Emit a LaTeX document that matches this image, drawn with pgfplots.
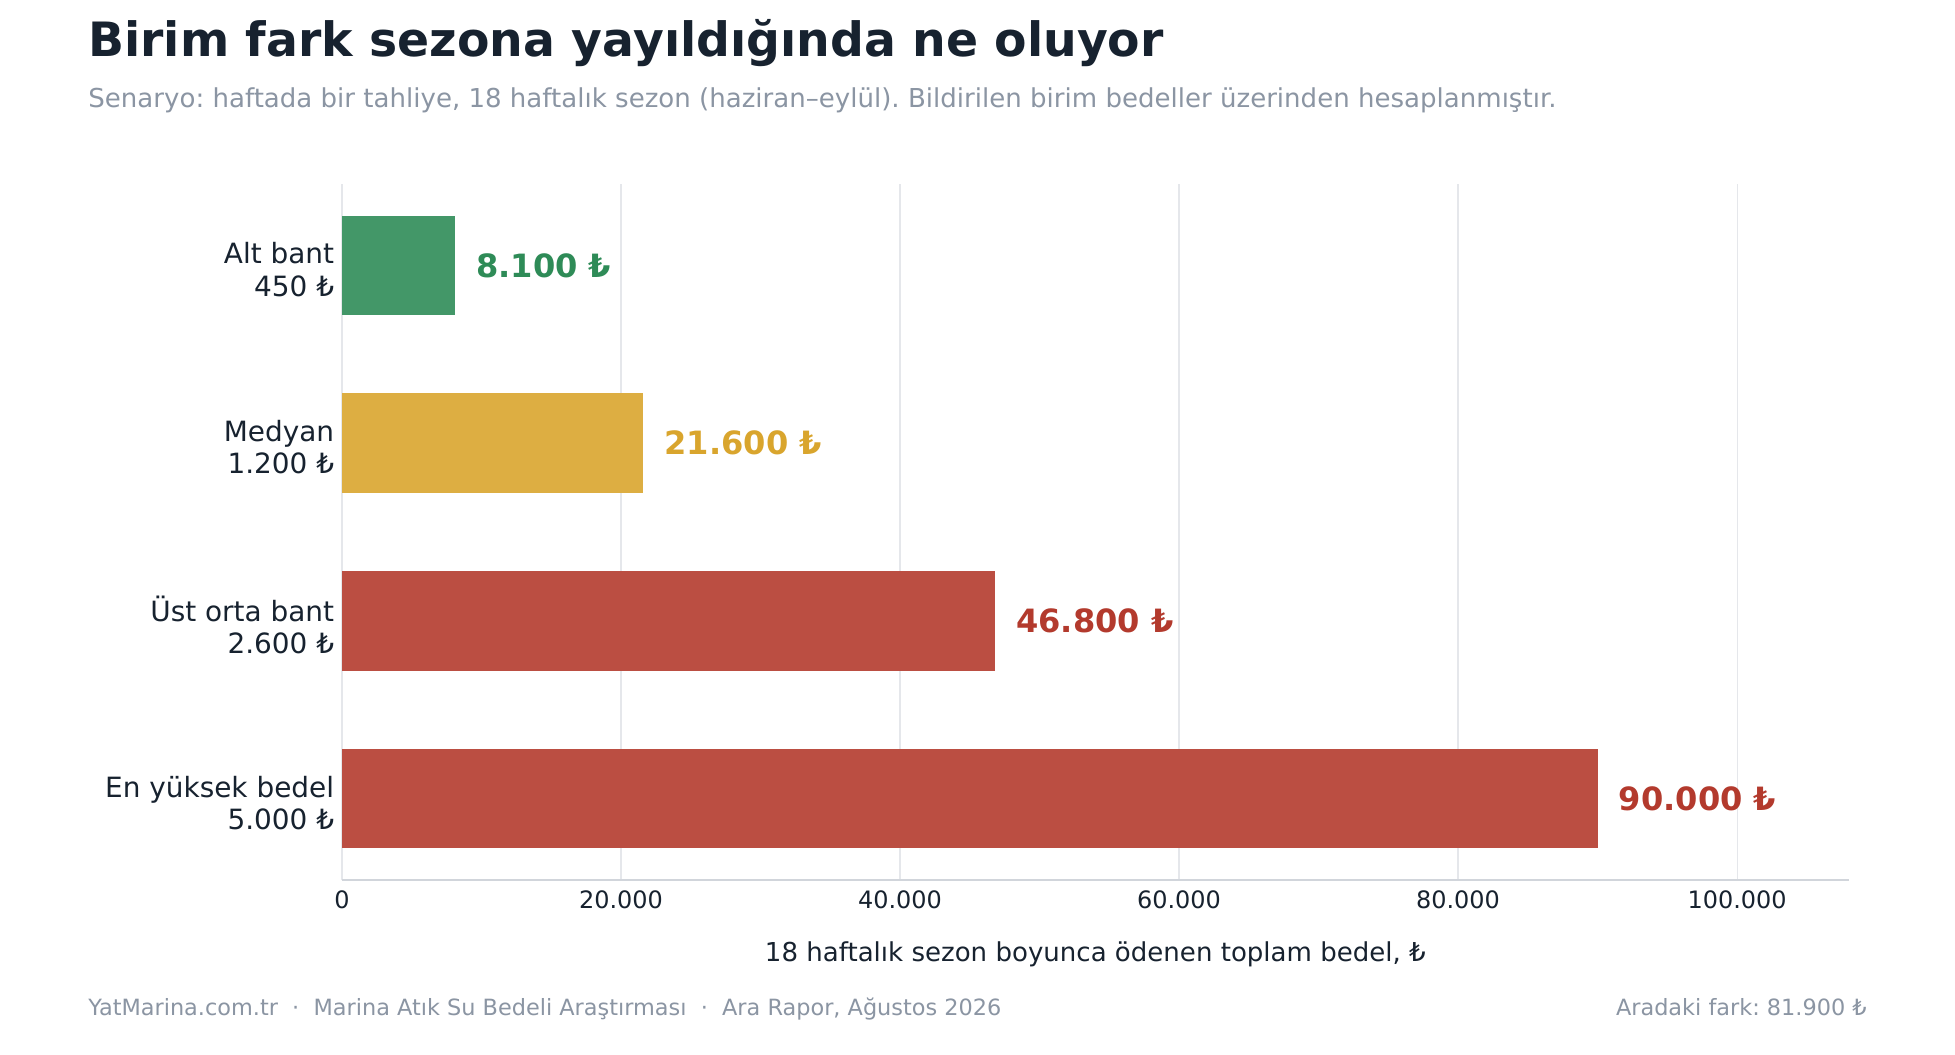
\documentclass[border=0pt]{standalone}
\usepackage{fontspec}
\setmainfont{DejaVu Sans}
\usepackage{pgfplots}
\pgfplotsset{compat=1.18}
\definecolor{titlec}{HTML}{17222F}
\definecolor{subc}{HTML}{8B95A3}
\definecolor{gridc}{HTML}{E5E7EB}
\definecolor{spinec}{HTML}{D1D5DB}
\definecolor{greenbar}{HTML}{439768}
\definecolor{greentext}{HTML}{2E8B57}
\definecolor{goldbar}{HTML}{DDAE42}
\definecolor{goldtext}{HTML}{D9A52D}
\definecolor{redbar}{HTML}{BB4E42}
\definecolor{redtext}{HTML}{B33A2D}
\begin{document}
\frenchspacing
\begin{tikzpicture}
\path[use as bounding box, fill=white] (0,0) rectangle (938.4pt,-505.92pt);
\node[anchor=base west, inner sep=0, font=\fontsize{22.7}{26}\selectfont\bfseries, text=titlec] at (42.24pt,-27.2pt) {Birim fark sezona yayıldığında ne oluyor};
\node[anchor=base west, inner sep=0, font=\fontsize{12.5}{14}\selectfont, text=subc] at (42.24pt,-51.5pt) {Senaryo: haftada bir tahliye, 18 haftalık sezon (haziran–eylül). Bildirilen birim bedeller üzerinden hesaplanmıştır.};
\begin{axis}[
  at={(164.16pt,-422.4pt)}, anchor=south west,
  width=723.2pt, height=334.08pt, scale only axis,
  clip=false,
  scaled x ticks=false,
  xmin=0, xmax=108000, ymin=-0.458, ymax=3.458,
  xtick={0,20000,40000,60000,80000,100000},
  xticklabels={0,20.000,40.000,60.000,80.000,100.000},
  ytick={0,1,2,3},
  yticklabels={{En yüksek bedel\\5.000 ₺},{Üst orta bant\\2.600 ₺},{Medyan\\1.200 ₺},{Alt bant\\450 ₺}},
  major tick length=0pt,
  axis x line*=bottom,
  axis y line*=left,
  x axis line style={-, draw=spinec, line width=0.9pt},
  y axis line style={draw=none},
  xmajorgrids,
  major grid style={draw=gridc, line width=0.55pt},
  xticklabel style={font=\fontsize{11.5}{13}\selectfont, text=titlec, inner sep=0pt, yshift=-4.8pt},
  yticklabel style={font=\fontsize{13.4}{15.4}\selectfont, text=titlec, align=right, inner sep=0pt, xshift=-3.6pt, yshift=-2pt},
  xlabel={18 haftalık sezon boyunca ödenen toplam bedel, ₺},
  xlabel style={at={(axis description cs:0.5,0)}, anchor=base, yshift=-38.9pt, font=\fontsize{12.5}{15}\selectfont, text=titlec, inner sep=0pt},
  xbar, bar shift=0pt, bar width=0.56,
  point meta=explicit symbolic,
  nodes near coords={\pgfplotspointmeta},
  nodes near coords style={anchor=west, inner sep=0pt, xshift=10pt, font=\fontsize{15.4}{17}\selectfont\bfseries},
]
\addplot[fill=greenbar, draw=none, nodes near coords style={text=greentext}] coordinates {(8100,3) [8.100 ₺]};
\addplot[fill=goldbar, draw=none, nodes near coords style={text=goldtext}] coordinates {(21600,2) [21.600 ₺]};
\addplot[fill=redbar, draw=none, nodes near coords style={text=redtext}] coordinates {(46800,1) [46.800 ₺]};
\addplot[fill=redbar, draw=none, nodes near coords style={text=redtext}] coordinates {(90000,0) [90.000 ₺]};
\end{axis}
\node[anchor=base west, inner sep=0, font=\fontsize{10.75}{13}\selectfont, text=subc] at (42.24pt,-487.2pt) {YatMarina.com.tr \ · \ Marina Atık Su Bedeli Araştırması \ · \ Ara Rapor, Ağustos 2026};
\node[anchor=base east, inner sep=0, font=\fontsize{10.75}{13}\selectfont, text=subc] at (896.2pt,-487.2pt) {Aradaki fark: 81.900 ₺};
\end{tikzpicture}
\end{document}
